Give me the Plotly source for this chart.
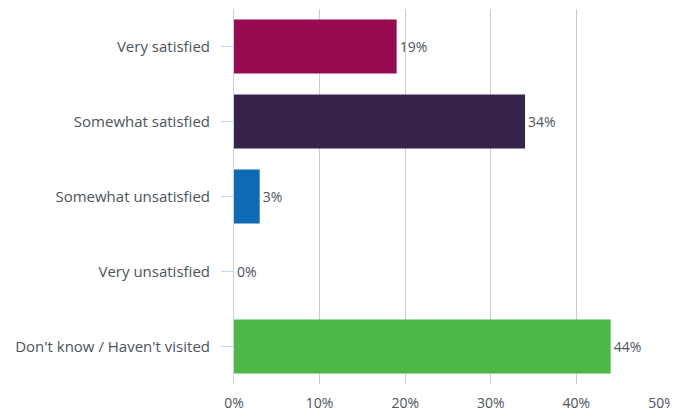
import plotly.graph_objects as go

categories = ["Very satisfied", "Somewhat satisfied", "Somewhat unsatisfied", "Very unsatisfied", "Don't know / Haven't visited"]
values = [19, 34, 3, 0, 44]
colors = ["#970B50", "#37244A", "#0F6AB4", "#0F6AB4", "#4DB748"]
x_ticks = [0, 10, 20, 30, 40, 50]
x_tick_labels = ["0%", "10%", "20%", "30%", "40%", "50%"]

FONT = "Open Sans, sans-serif"
TEXT_COLOR = "#4E535B"

fig = go.Figure(go.Bar(
    y=categories,
    x=values,
    orientation="h",
    marker=dict(color=colors, line=dict(width=0)),
    width=0.72,
    text=[f"{v}%" for v in values],
    textposition="outside",
    cliponaxis=False,
    textfont=dict(color=TEXT_COLOR, size=14, family=FONT),
))

# page body has an 8px margin; figure is sized to compensate
fig.update_layout(
    width=670, height=406,
    margin=dict(l=226, r=16, t=1, b=30),
    paper_bgcolor="white",
    plot_bgcolor="white",
    showlegend=False,
    font=dict(family=FONT, color=TEXT_COLOR, size=14),
)
fig.update_xaxes(
    range=[0, 50],
    tickvals=x_ticks,
    ticktext=x_tick_labels,
    showgrid=True,
    gridcolor="#CCCCCC",
    gridwidth=1,
    zeroline=False,
    showline=False,
    tickfont=dict(size=14, color=TEXT_COLOR, family=FONT),
    ticklabelstandoff=9,
    automargin=False,
)
fig.update_yaxes(
    categoryorder="array",
    categoryarray=categories[::-1],
    showline=True,
    linecolor="#C5D5E8",
    linewidth=1,
    ticks="outside",
    ticklen=12,
    tickcolor="#C5D5E8",
    tickfont=dict(size=15, color=TEXT_COLOR, family=FONT),
    ticklabelstandoff=8,
    showgrid=False,
    automargin=False,
)

fig.write_html("out.html")
